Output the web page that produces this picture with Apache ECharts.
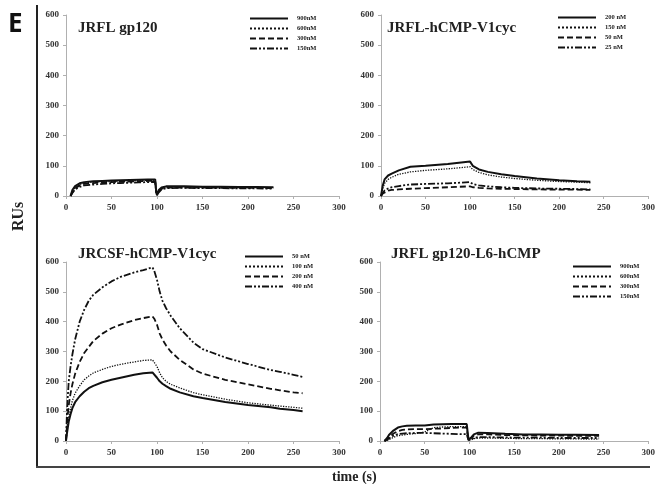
<!DOCTYPE html>
<html><head><meta charset="utf-8">
<script src="https://cdn.jsdelivr.net/npm/echarts@6/dist/echarts.min.js"></script>
<style>html,body{margin:0;padding:0;background:#fff}#c{width:658px;height:484px}</style>
</head><body><div id="c"></div>
<script>
// ---------- data ----------
const panelTitles = ["JRFL gp120", "JRFL-hCMP-V1cyc", "JRCSF-hCMP-V1cyc", "JRFL gp120-L6-hCMP"];
const xTicks = [0, 50, 100, 150, 200, 250, 300];
const yTicks = [0, 100, 200, 300, 400, 500, 600];

// Panel 1: JRFL gp120
const p1Names = ["900nM", "600nM", "300nM", "150nM"];
const p1Time = [5,7,10,15,20,30,40,50,60,70,80,90,98,99,100,102,105,110,130,150,170,190,210,228];
const p1_900 = [0,20,33,42,46,49,50,51,52,53,54,55,55,20,2,20,28,32,32,31,31,30,30,29];
const p1_600 = [0,15,28,38,43,46,47,48,49,50,51,52,52,18,3,18,26,30,30,29,29,28,28,27];
const p1_300 = [0,12,25,35,40,43,45,46,47,48,49,50,50,15,4,15,24,28,28,28,27,27,27,26];
const p1_150 = [0,10,22,30,35,38,40,42,43,44,45,46,47,12,5,12,22,26,27,26,26,25,25,24];

// Panel 2: JRFL-hCMP-V1cyc
const p2Names = ["200 nM", "150 nM", "50 nM", "25 nM"];
const p2Time = [0,2,4,8,12,20,33,50,75,100,103,110,120,135,150,175,200,220,235];
const p2_200 = [0,35,55,68,74,85,97,100,106,114,100,88,80,72,66,58,52,49,47];
const p2_150 = [0,25,42,55,62,72,80,85,90,97,88,78,70,63,58,52,48,46,44];
const p2_50  = [0,8,14,18,20,22,24,26,29,32,29,27,25,24,23,22,21,21,20];
const p2_25  = [0,10,18,25,29,33,38,40,42,46,40,35,32,29,27,25,24,23,22];

// Panel 3: JRCSF-hCMP-V1cyc
const p3Names = ["50 nM", "100 nM", "200 nM", "400 nM"];
const p3Time = [0,1,2,3,5,7,10,15,20,25,30,40,50,60,75,85,95,97,100,103,106,110,115,125,140,150,175,200,225,235,250,260];
const p3_50  = [0,25,45,65,90,110,130,150,165,177,185,197,205,212,222,227,230,226,212,200,192,184,175,163,150,144,131,121,113,108,104,100];
const p3_100 = [0,35,60,80,110,135,160,185,205,218,228,240,250,257,265,270,272,266,250,228,212,200,190,178,162,155,140,128,120,117,113,110];
const p3_200 = [0,50,90,120,160,190,225,265,295,315,335,360,378,390,405,412,418,410,390,360,340,320,300,272,240,226,205,190,175,170,163,160];
const p3_400 = [0,90,150,200,250,290,340,400,440,470,490,515,535,550,565,573,582,570,540,500,470,445,420,378,330,308,280,258,238,232,222,215];

// Panel 4: JRFL gp120-L6-hCMP
const p4Names = ["900nM", "600nM", "300nM", "150nM"];
const p4Time = [5,8,10,15,20,25,30,40,50,60,70,80,90,97,98,99,100,102,105,110,120,140,160,180,200,220,245];
const p4_900 = [0,10,20,35,45,49,51,52,52,55,56,57,57,57,30,5,0,12,22,28,27,24,22,22,21,21,20];
const p4_600 = [0,2,5,12,18,20,22,25,30,45,47,48,48,48,20,3,0,4,8,10,10,9,8,8,7,7,6];
const p4_300 = [0,6,12,25,33,37,39,40,40,41,42,44,45,45,20,5,0,10,18,22,22,20,19,18,18,17,17];
const p4_150 = [0,5,10,18,23,25,26,27,27,26,25,24,23,23,12,3,0,5,10,13,13,12,11,11,10,10,10];

// ---------- chart ----------
const serif = '"Liberation Serif", "DejaVu Serif", serif';
const styles = [
  {type: 'solid', width: 2},
  {type: 'dotted', width: 1.3},
  {type: [6, 3], width: 1.8},
  {type: [7, 2, 2, 2, 2, 2], width: 1.8}
];
const grids = [
  {left: 66, top: 15, width: 273, height: 181},
  {left: 381, top: 15, width: 273, height: 181},
  {left: 66, top: 262, width: 273, height: 179},
  {left: 380, top: 262, width: 273, height: 179}
];
const panels = [
  {names: p1Names, time: p1Time, vals: [p1_900, p1_600, p1_300, p1_150]},
  {names: p2Names, time: p2Time, vals: [p2_200, p2_150, p2_50, p2_25]},
  {names: p3Names, time: p3Time, vals: [p3_50, p3_100, p3_200, p3_400]},
  {names: p4Names, time: p4Time, vals: [p4_900, p4_600, p4_300, p4_150]}
];
const legendPos = [
  {left: 249, top: 15}, {left: 557, top: 14}, {left: 244, top: 253}, {left: 572, top: 263}
];
const titlePos = [
  {left: 78, top: 21}, {left: 387, top: 21}, {left: 78, top: 247}, {left: 391, top: 247}
];

const axisLabel = {fontFamily: serif, fontWeight: 'bold', fontSize: 9, color: '#333'};
const xAxis = [], yAxis = [], series = [], legend = [], title = [];
panels.forEach((p, i) => {
  xAxis.push({
    gridIndex: i, type: 'value', min: xTicks[0], max: xTicks[xTicks.length - 1], interval: 50,
    axisLine: {lineStyle: {color: '#b0b0b0', width: 1}},
    axisTick: {show: true, length: 3, lineStyle: {color: '#b0b0b0'}},
    splitLine: {show: false},
    axisLabel: Object.assign({margin: 7}, axisLabel)
  });
  yAxis.push({
    gridIndex: i, type: 'value', min: yTicks[0], max: yTicks[yTicks.length - 1], interval: 100,
    axisLine: {show: true, lineStyle: {color: '#b0b0b0', width: 1}},
    axisTick: {show: true, length: 3, lineStyle: {color: '#b0b0b0'}},
    splitLine: {show: false},
    axisLabel: Object.assign({margin: 7}, axisLabel)
  });
  const ids = p.names.map(n => 'P' + (i + 1) + '|' + n);
  p.names.forEach((n, k) => {
    series.push({
      name: ids[k], type: 'line', xAxisIndex: i, yAxisIndex: i, symbol: 'none', smooth: false,
      lineStyle: {color: '#111', width: styles[k].width, type: styles[k].type},
      itemStyle: {color: '#111'},
      data: p.time.map((t, j) => [t, p.vals[k][j]]),
      z: 10 - k
    });
  });
  legend.push({
    orient: 'vertical', left: legendPos[i].left, top: legendPos[i].top,
    data: ids, itemWidth: 38, itemHeight: 6, itemGap: 3, padding: 0,
    selectedMode: false,
    itemStyle: {opacity: 0},
    formatter: name => name.split('|')[1],
    textStyle: {fontFamily: serif, fontWeight: 'bold', fontSize: 6.5, color: '#222', padding: [0, 0, 0, 4]}
  });
  title.push({
    text: panelTitles[i], left: titlePos[i].left, top: titlePos[i].top, padding: 0,
    textStyle: {fontFamily: serif, fontWeight: 'bold', fontSize: 15, color: '#222'}
  });
});

const chart = echarts.init(document.getElementById('c'), null, {renderer: 'canvas'});
chart.setOption({
  animation: false,
  backgroundColor: '#fff',
  title: title,
  legend: legend,
  grid: grids,
  xAxis: xAxis,
  yAxis: yAxis,
  series: series,
  graphic: [
    {type: 'line', shape: {x1: 37, y1: 5, x2: 37, y2: 467}, style: {stroke: '#222', lineWidth: 2}},
    {type: 'line', shape: {x1: 36, y1: 467, x2: 650, y2: 467}, style: {stroke: '#444', lineWidth: 2}},
    {type: 'text', left: 8, top: 12, style: {text: 'E', font: 'bold 26px "Open Sans", sans-serif', fill: '#111'}},
    {type: 'text', x: 11, y: 231, rotation: Math.PI / 2, style: {text: 'RUs', font: 'bold 16px ' + serif, fill: '#222', textVerticalAlign: 'top'}},
    {type: 'text', left: 332, top: 470, style: {text: 'time (s)', font: 'bold 14px ' + serif, fill: '#222'}}
  ]
});
</script></body></html>
